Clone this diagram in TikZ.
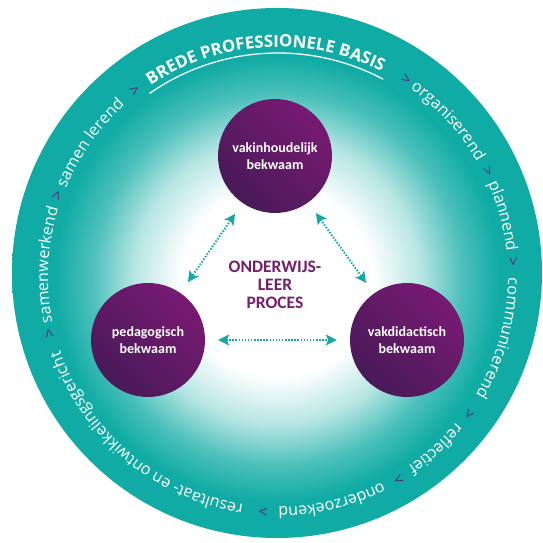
\documentclass[tikz,border=0pt]{standalone}
\usepackage{fontspec}
\setmainfont{Open Sans}
\newfontfamily\calib{Carlito}
\newfontfamily\ringbold{Open Sans Bold}
\usetikzlibrary{decorations.text,arrows.meta,calc}
\definecolor{tealc}{RGB}{16,171,164}
\definecolor{tealarrow}{RGB}{22,168,162}
\definecolor{plight}{RGB}{120,26,114}
\definecolor{pdark}{RGB}{72,26,88}
\definecolor{ptext}{RGB}{117,30,110}
\definecolor{psep}{RGB}{88,44,131}
\pgfdeclareradialshading{ringshade}{\pgfpoint{0bp}{-1bp}}{%
  color(0bp)=(white); color(9bp)=(white); color(13.5bp)=(tealc!30!white);
  color(17.5bp)=(tealc!75!white); color(21bp)=(tealc); color(25bp)=(tealc); color(50bp)=(tealc)}
\newcommand\ringfont{\fontsize{16}{20}\selectfont}
\newcommand\ringword[3]{%
  \path[decorate,decoration={text along path,text align=center,
    text={|#3|#2}}] ($(C)+(#1+55:230)$) arc[start angle=#1+55, end angle=#1-55, radius=230];}
\tikzset{
  pcirc/.style={circle, minimum size=114pt, inner sep=0pt, align=center, text=white,
    font=\calib\bfseries\fontsize{14}{17.5}\selectfont,
    top color=plight, bottom color=pdark, shading angle=-45},
  midtext/.style={align=center, text=ptext, font=\calib\bfseries\fontsize{17.5}{18}\selectfont},
  conn/.style={tealarrow, line width=2pt, dash pattern=on 1.5pt off 1.6pt,
    {Stealth[length=11pt,width=11pt,inset=2.5pt]}-{Stealth[length=11pt,width=11pt,inset=2.5pt]},
    shorten <=13pt, shorten >=13pt}
}
\begin{document}
\begin{tikzpicture}[x=1pt,y=1pt]
\useasboundingbox (0,0) rectangle (542,543);
\coordinate (O) at (277,270);
\coordinate (C) at (278,266);
\path[shading=ringshade] (O) circle[radius=265];
% ring text
\ringword{93.4}{BREDE PROFESSIONELE BASIS}{\ringbold\fontsize{16.8}{20}\selectfont\color{white}}
\ringword{57}{>}{\ringfont\color{psep}}
\ringword{42.5}{organiserend}{\ringfont\color{white}}
\ringword{26.8}{>}{\ringfont\color{psep}}
\ringword{15.2}{plannend}{\ringfont\color{white}}
\ringword{3.6}{>}{\ringfont\color{psep}}
\ringword{-15.5}{communicerend}{\ringfont\color{white}}
\ringword{-35.8}{>}{\ringfont\color{psep}}
\ringword{-47.5}{reflectief}{\ringfont\color{white}}
\ringword{-59.2}{>}{\ringfont\color{psep}}
\ringword{-76.5}{onderzoekend}{\ringfont\color{white}}
\ringword{-93.6}{>}{\ringfont\color{psep}}
\ringword{-130}{resultaat- en ontwikkelingsgericht}{\ringfont\color{white}}
\ringword{-166.2}{>}{\ringfont\color{psep}}
\ringword{177}{samenwerkend}{\ringfont\color{white}}
\ringword{159.8}{>}{\ringfont\color{psep}}
\ringword{144.5}{samen lerend}{\ringfont\color{white}}
\ringword{127.5}{>}{\ringfont\color{psep}}
\draw[white, line width=1.3pt] ($(C)+(125:224)$) arc[start angle=125, end angle=62, radius=224];
% inner circles
\node[pcirc] (top) at (275,387) {vakinhoudelijk\\bekwaam};
\node[pcirc] (left) at (148,203) {pedagogisch\\bekwaam};
\node[pcirc] (right) at (407,203) {vakdidactisch\\bekwaam};
\node[midtext] (mid) at (275,258) {ONDERWIJS-\\LEER\\PROCES};
\draw[conn] (top) -- (left);
\draw[conn] (top) -- (right);
\draw[conn] (left) -- (right);
\end{tikzpicture}
\end{document}
